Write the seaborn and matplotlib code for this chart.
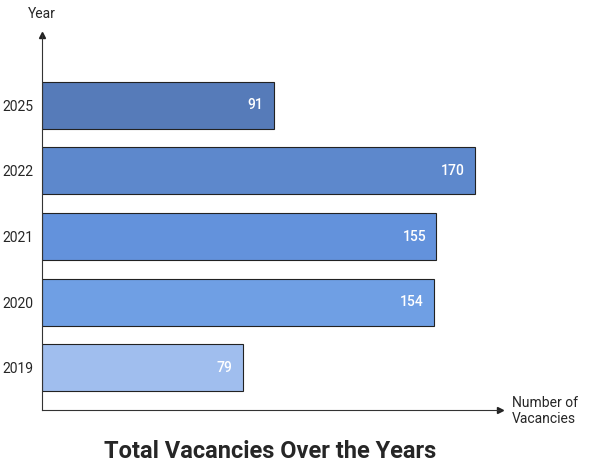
import matplotlib
matplotlib.use("Agg")
import matplotlib.pyplot as plt
import seaborn as sns
import pandas as pd

years = ["2025", "2022", "2021", "2020", "2019"]
vacancies = [91, 170, 155, 154, 79]
colors = ["#4677c9", "#4b84de", "#4f8ef0", "#5c9bf7", "#93bbfb"]

sns.set_style("white")
plt.rcParams['font.family'] = ['Roboto', 'DejaVu Sans']

df = pd.DataFrame({"Year": years, "Vacancies": vacancies})
fig = plt.figure(figsize=(5.91, 4.74), dpi=100)
ax = fig.add_axes([0.071, 0.135, 0.775, 0.791])
sns.barplot(data=df, y="Year", x="Vacancies", hue="Year", palette=colors,
            order=years, orient="h", width=0.715, edgecolor="#222222",
            linewidth=0.8, legend=False, ax=ax)
for i, v in enumerate(vacancies):
    ax.text(v - 4, i, str(v), color="white", ha="right", va="center",
            fontsize=10, fontweight="medium")
ax.set_xlim(0, 180)
ax.set_ylim(4.64, -1.065)
ax.set_xticks([])
ax.set_xlabel("")
ax.set_ylabel("")
ax.tick_params(axis="y", length=0, labelsize=10, pad=6)
for s in ["top", "right"]:
    ax.spines[s].set_visible(False)
for s in ["left", "bottom"]:
    ax.spines[s].set_color("#333333")
    ax.spines[s].set_linewidth(0.8)
ax.plot(1, 0, ">", transform=ax.transAxes, color="#222222", ms=4, clip_on=False)
ax.plot(0, 1, "^", transform=ax.transAxes, color="#222222", ms=4, clip_on=False)
fig.text(0.047, 0.97, "Year", fontsize=10, ha="left", va="center")
fig.text(0.866, 0.133, "Number of\nVacancies", fontsize=10, ha="left", va="center")
fig.text(0.457, 0.047, "Total Vacancies Over the Years", fontsize=17,
         fontweight="bold", ha="center", va="center")
fig.savefig("out.png", dpi=100)
